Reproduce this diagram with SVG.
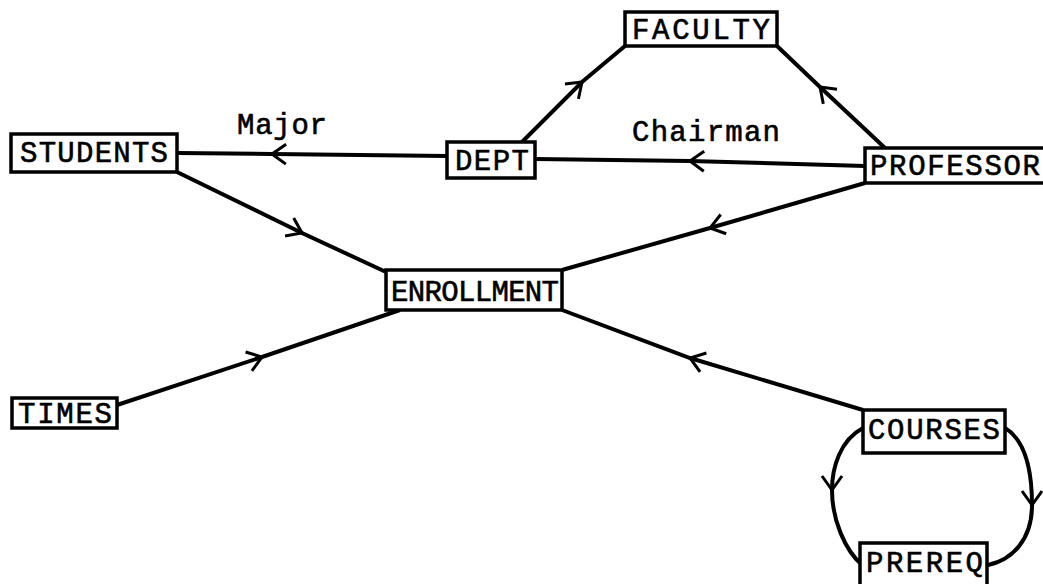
<svg xmlns="http://www.w3.org/2000/svg" width="1043" height="584" viewBox="0 0 1043 584">
<style>
.box{fill:#fff;stroke:#000;stroke-width:3.5}
.lbl{font-family:"Liberation Mono","DejaVu Sans Mono",monospace;font-size:29px;fill:#000;stroke:#000;stroke-width:0.6}
.edge{fill:none;stroke:#000;stroke-width:4;marker-mid:url(#chev)}
</style>
<defs>
<marker id="chev" viewBox="-16 -12 18 24" markerWidth="18" markerHeight="24" refX="0" refY="0" orient="auto" markerUnits="userSpaceOnUse">
<path d="M-14,-10 L0,0 L-14,10" fill="none" stroke="#000" stroke-width="3"/>
</marker>
</defs>
<g id="connectors">
<path class="edge" d="M447,156 L272,154 L177,153"/>
<path class="edge" d="M865,166 L690,161 L535,159"/>
<path class="edge" d="M885,148 L820,87 L777,46"/>
<path class="edge" d="M522,142 L582,82 L625,46"/>
<path class="edge" d="M177,172 L302,233 L386,272"/>
<path class="edge" d="M865,183 L710,228 L562,270"/>
<path class="edge" d="M117,405 L262,357 L400,310"/>
<path class="edge" d="M863,410 L690,358 L562,310"/>
<path class="edge" d="M863,428 C840,440 832,468 832,490 C832,520 845,550 862,565"/>
<path class="edge" d="M1005,428 C1025,440 1032,470 1032,505 C1032,540 1012,560 988,565"/>
<text class="lbl" x="237" y="134" textLength="90">Major</text>
<text class="lbl" x="632" y="141" textLength="148">Chairman</text>
</g>
<g id="students"><rect class="box" x="11" y="134" width="166" height="38"/><text class="lbl" x="20" y="162" textLength="148">STUDENTS</text></g>
<g id="dept"><rect class="box" x="447" y="142" width="88" height="36"/><text class="lbl" x="455" y="170" textLength="74">DEPT</text></g>
<g id="faculty"><rect class="box" x="625" y="12" width="152" height="34"/><text class="lbl" x="632" y="39" textLength="138">FACULTY</text></g>
<g id="professor"><rect class="box" x="865" y="148" width="182" height="35"/><text class="lbl" x="870" y="175" textLength="170">PROFESSOR</text></g>
<g id="enrollment"><rect class="box" x="386" y="270" width="176" height="40"/><text class="lbl" x="391" y="301" textLength="168">ENROLLMENT</text></g>
<g id="times"><rect class="box" x="12" y="398" width="105" height="30"/><text class="lbl" x="18" y="423" textLength="94">TIMES</text></g>
<g id="courses"><rect class="box" x="863" y="410" width="142" height="43"/><text class="lbl" x="868" y="439" textLength="132">COURSES</text></g>
<g id="prereq"><rect class="box" x="860" y="543" width="127" height="45"/><text class="lbl" x="866" y="572" textLength="117">PREREQ</text></g>
</svg>
